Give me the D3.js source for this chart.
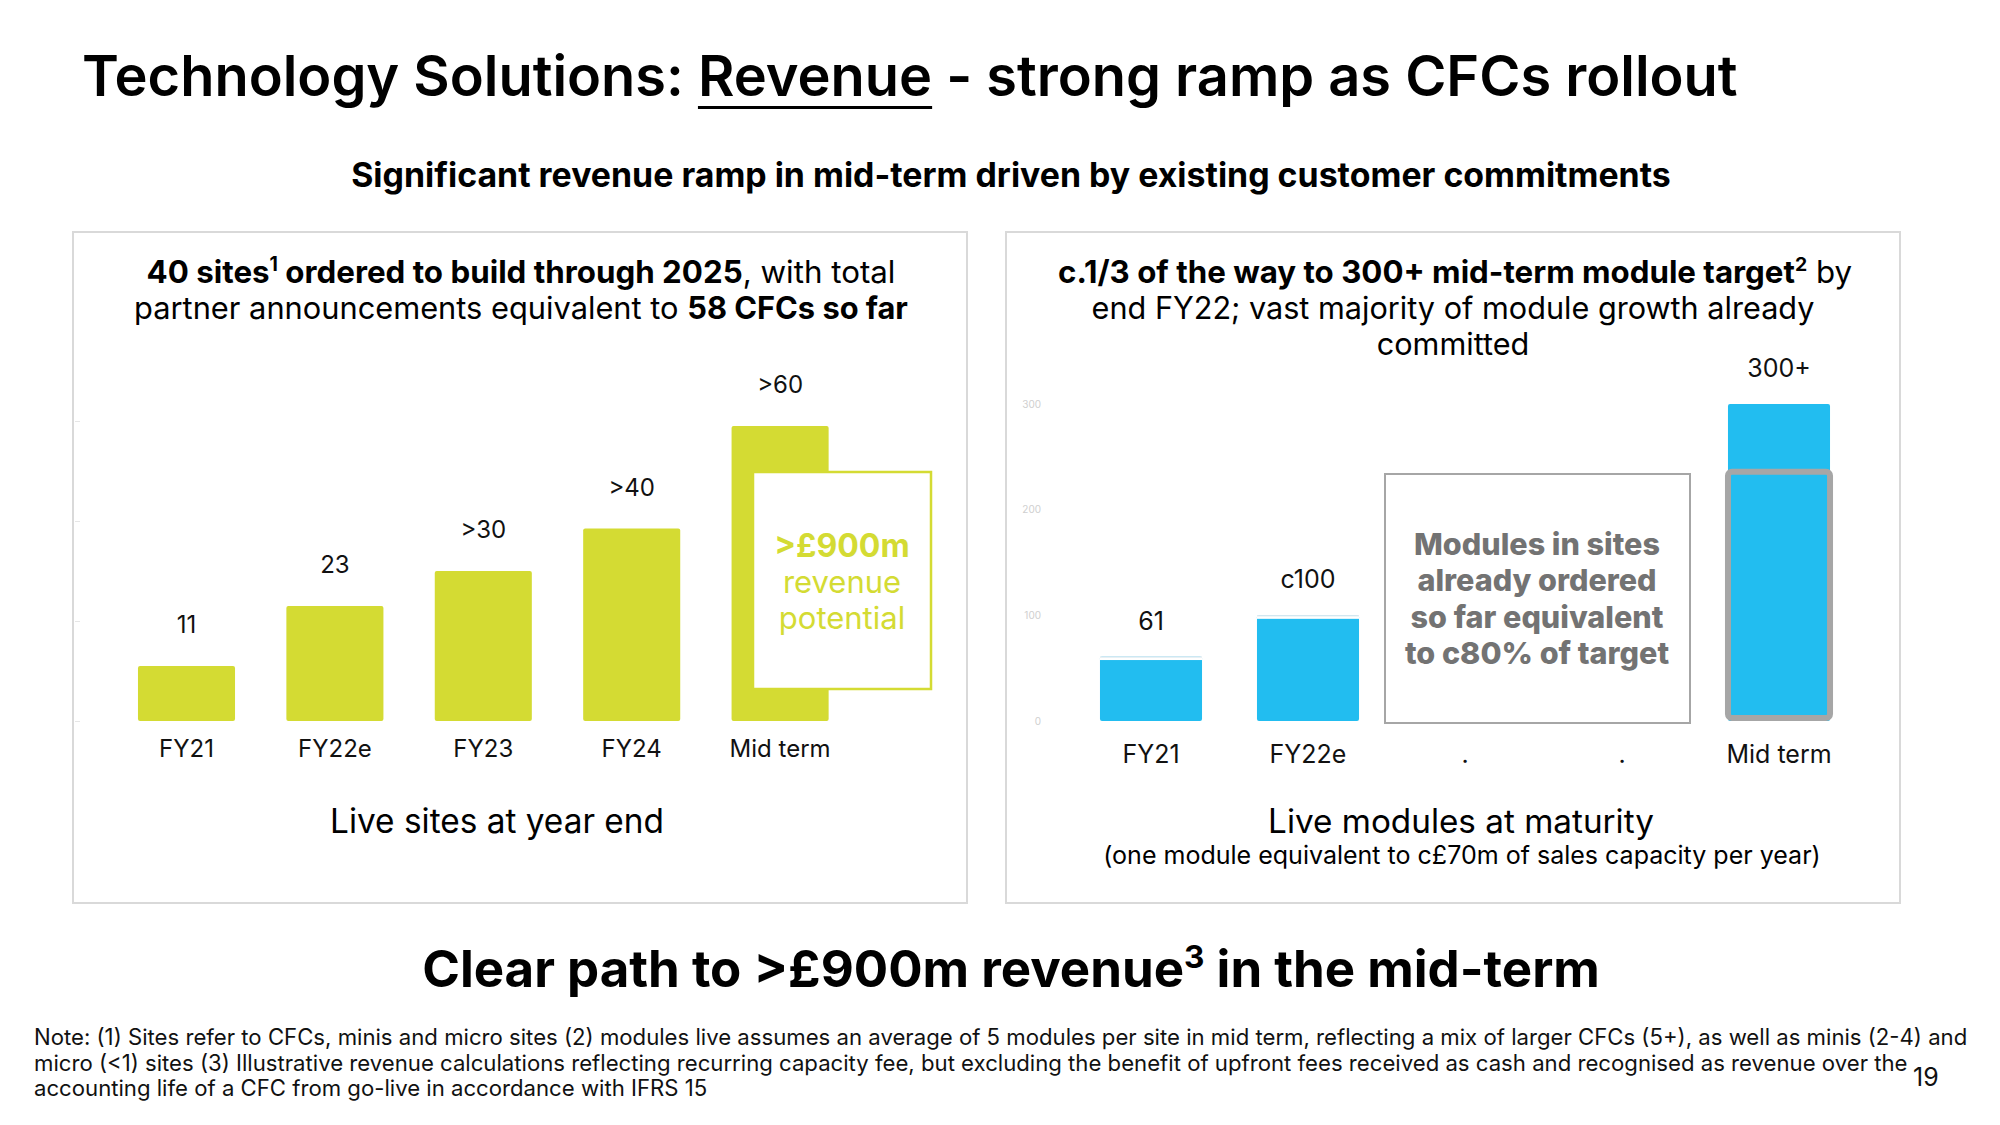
<!DOCTYPE html>
<html>
<head>
<meta charset="utf-8">
<script src="https://cdn.jsdelivr.net/npm/d3@7"></script>
<style>
  body { margin: 0; background: #fff; }
  svg { display: block; }
  text { font-family: Inter, "Noto Sans", "Liberation Sans", sans-serif; white-space: pre; }
</style>
</head>
<body>
<svg id="c" width="2000" height="1125"></svg>
<script>
// ---------------- data ----------------
const sitesCategories = ["FY21", "FY22e", "FY23", "FY24", "Mid term"];
const sitesValues = [11, 23, 30, 38.5, 59];
const sitesLabels = ["11", "23", ">30", ">40", ">60"];
const sitesTicks = [0, 20, 40, 60];

const moduleCategories = ["FY21", "FY22e", "gap1", "gap2", "Mid term"];
const moduleTickLabels = ["FY21", "FY22e", ".", ".", "Mid term"];
const moduleValues = [61, 100, null, null, 300];
const moduleLabels = ["61", "c100", "", "", "300+"];
const moduleCommitted = [236]; // mid-term modules in sites already ordered (~c80%)
const moduleTicks = [0, 100, 200, 300];

// ---------------- helpers ----------------
const svg = d3.select("#c");
const GREEN = "#d4db33", BLUE = "#22bdf0", GREY = "#a6a6a6", GREYTXT = "#737373";

function fitWidth(sel, target) {
  const w = sel.node().getComputedTextLength();
  const fs = parseFloat(sel.attr("font-size"));
  const nfs = fs * target / w;
  sel.attr("font-size", nfs);
  return nfs;
}
function addRuns(textSel, runs) {
  let prevSup = false;
  runs.forEach(r => {
    const t = textSel.append("tspan").text(r.t);
    t.attr("font-weight", r.b ? 700 : null);
    if (r.sup) { t.attr("font-size", "0.62em").attr("dy", "-0.6em"); prevSup = true; }
    else if (prevSup) { t.attr("dy", "0.372em"); prevSup = false; }
  });
  return textSel;
}

// ---------------- title ----------------
const title = svg.append("text").attr("x", 82).attr("y", 96).attr("font-size", 52)
  .attr("font-weight", 600).attr("fill", "#000");
const t1 = title.append("tspan").text("Technology Solutions: ");
const t2 = title.append("tspan").text("Revenue");
title.append("tspan").text(" - strong ramp as CFCs rollout");
fitWidth(title, 1656);
const ux0 = 82 + t1.node().getComputedTextLength();
const ux1 = ux0 + t2.node().getComputedTextLength();
svg.append("line").attr("x1", ux0).attr("x2", ux1).attr("y1", 107.5).attr("y2", 107.5)
  .attr("stroke", "#000").attr("stroke-width", 3);

// subtitle
const sub = svg.append("text").attr("x", 1011).attr("y", 187).attr("text-anchor", "middle")
  .attr("font-size", 32).attr("font-weight", 700).attr("fill", "#000")
  .text("Significant revenue ramp in mid-term driven by existing customer commitments");
fitWidth(sub, 1320);

// ---------------- panels ----------------
svg.append("rect").attr("x", 73).attr("y", 232).attr("width", 894).attr("height", 671)
  .attr("fill", "#fff").attr("stroke", "#d9d9d9").attr("stroke-width", 2);
svg.append("rect").attr("x", 1006).attr("y", 232).attr("width", 894).attr("height", 671)
  .attr("fill", "#fff").attr("stroke", "#d9d9d9").attr("stroke-width", 2);

// left header
const lh1 = svg.append("text").attr("x", 521).attr("y", 283).attr("text-anchor", "middle")
  .attr("font-size", 30).attr("fill", "#000");
addRuns(lh1, [{t: "40 sites", b: 1}, {t: "1", b: 1, sup: 1}, {t: " ordered to build through 2025", b: 1}, {t: ", with total"}]);
fitWidth(lh1, 749);
const lh2 = svg.append("text").attr("x", 521).attr("y", 319).attr("text-anchor", "middle")
  .attr("font-size", 30).attr("fill", "#000");
addRuns(lh2, [{t: "partner announcements equivalent to "}, {t: "58 CFCs so far", b: 1}]);
fitWidth(lh2, 774);

// right header
const rh1 = svg.append("text").attr("x", 1455).attr("y", 283).attr("text-anchor", "middle")
  .attr("font-size", 30).attr("fill", "#000");
addRuns(rh1, [{t: "c.1/3 of the way to 300+ mid-term module target", b: 1}, {t: "2", b: 1, sup: 1}, {t: " by"}]);
fitWidth(rh1, 794);
const rh2 = svg.append("text").attr("x", 1453).attr("y", 319).attr("text-anchor", "middle")
  .attr("font-size", 30).attr("fill", "#000").text("end FY22; vast majority of module growth already");
const rfs2 = fitWidth(rh2, 723);
svg.append("text").attr("x", 1453).attr("y", 355).attr("text-anchor", "middle")
  .attr("font-size", rfs2).attr("fill", "#000").text("committed");

// ---------------- left chart: live sites ----------------
const xL = d3.scaleBand().domain(sitesCategories).range([112.3, 854.3])
  .paddingInner(0.346).paddingOuter(0.173);
const yL = d3.scaleLinear().domain([0, 60]).range([721, 421]);

// faint hidden axis remnants
const axL = svg.append("g").attr("transform", "translate(80,0)")
  .call(d3.axisLeft(yL).tickValues(sitesTicks).tickSize(5).tickFormat(""));
axL.select(".domain").remove();
axL.selectAll("line").attr("stroke", "#e6e6e6");

svg.append("g").selectAll("rect").data(sitesValues).join("rect")
  .attr("x", (d, i) => xL(sitesCategories[i]))
  .attr("y", d => yL(d))
  .attr("width", xL.bandwidth())
  .attr("height", d => yL(0) - yL(d))
  .attr("rx", 2)
  .attr("fill", GREEN);

svg.append("g").selectAll("text").data(sitesLabels).join("text")
  .attr("x", (d, i) => xL(sitesCategories[i]) + xL.bandwidth() / 2)
  .attr("y", (d, i) => yL(sitesValues[i]) - 33)
  .attr("text-anchor", "middle").attr("font-size", 24).attr("fill", "#111")
  .text(d => d);

const axLb = svg.append("g").attr("transform", "translate(0,721)")
  .call(d3.axisBottom(xL).tickSize(0));
axLb.select(".domain").remove();
axLb.selectAll("text").attr("y", 36).attr("dy", 0).attr("font-size", 24)
  .attr("font-family", "Inter, 'Noto Sans', sans-serif").attr("fill", "#111");

// overlay box
svg.append("rect").attr("x", 753).attr("y", 472).attr("width", 178).attr("height", 217)
  .attr("fill", "#fff").attr("stroke", GREEN).attr("stroke-width", 2.5);
svg.append("text").attr("x", 842).attr("y", 557).attr("text-anchor", "middle")
  .attr("font-size", 32).attr("font-weight", 700).attr("fill", GREEN).text(">£900m");
svg.append("text").attr("x", 842).attr("y", 593).attr("text-anchor", "middle")
  .attr("font-size", 31).attr("fill", GREEN).text("revenue");
svg.append("text").attr("x", 842).attr("y", 629).attr("text-anchor", "middle")
  .attr("font-size", 31).attr("fill", GREEN).text("potential");

const lsub = svg.append("text").attr("x", 497).attr("y", 833).attr("text-anchor", "middle")
  .attr("font-size", 30).attr("fill", "#000").text("Live sites at year end");
fitWidth(lsub, 334);

// ---------------- right chart: live modules ----------------
const xR = d3.scaleBand().domain(moduleCategories).range([1072.5, 1857.5])
  .paddingInner(0.35).paddingOuter(0.175);
const yR = d3.scaleLinear().domain([0, 300]).range([721, 404]);

const axR = svg.append("g").attr("transform", "translate(1041,0)")
  .call(d3.axisLeft(yR).tickValues(moduleTicks).tickSize(0).tickPadding(0));
axR.select(".domain").remove();
axR.selectAll("text").attr("font-size", 10).attr("fill", "#cfcfcf")
  .attr("font-family", "Inter, 'Noto Sans', sans-serif");

const mData = moduleValues.map((v, i) => ({c: moduleCategories[i], v, l: moduleLabels[i], i}))
  .filter(d => d.v !== null);

svg.append("g").selectAll("rect").data(mData).join("rect")
  .attr("x", d => xR(d.c))
  .attr("y", d => yR(d.v))
  .attr("width", xR.bandwidth())
  .attr("height", d => yR(0) - yR(d.v))
  .attr("rx", 2)
  .attr("fill", BLUE);

// light top edge on the actual bars
const actual = mData.filter(d => d.i < moduleValues.length - 1);
svg.append("g").selectAll("rect").data(actual).join("rect")
  .attr("x", d => xR(d.c)).attr("y", d => yR(d.v))
  .attr("width", xR.bandwidth()).attr("height", 3.5).attr("fill", "#fff");
svg.append("g").selectAll("line").data(actual).join("line")
  .attr("x1", d => xR(d.c)).attr("x2", d => xR(d.c) + xR.bandwidth())
  .attr("y1", d => yR(d.v) + 0.5).attr("y2", d => yR(d.v) + 0.5)
  .attr("stroke", "#d5e3ea").attr("stroke-width", 1);

// committed outline on mid-term bar
svg.append("g").selectAll("rect").data(moduleCommitted).join("rect")
  .attr("x", xR("Mid term"))
  .attr("y", d => yR(d))
  .attr("width", xR.bandwidth())
  .attr("height", d => yR(0) - yR(d) - 3)
  .attr("rx", 4)
  .attr("fill", "none").attr("stroke", GREY).attr("stroke-width", 6);

svg.append("g").selectAll("text").data(mData).join("text")
  .attr("x", d => xR(d.c) + xR.bandwidth() / 2)
  .attr("y", d => yR(d.v) - 27)
  .attr("text-anchor", "middle").attr("font-size", 25).attr("fill", "#111")
  .text(d => d.l);

const axRb = svg.append("g").attr("transform", "translate(0,721)")
  .call(d3.axisBottom(xR).tickSize(0).tickFormat((d, i) => moduleTickLabels[i]));
axRb.select(".domain").remove();
axRb.selectAll("text").attr("y", 42).attr("dy", 0).attr("font-size", 25)
  .attr("font-family", "Inter, 'Noto Sans', sans-serif").attr("fill", "#111");

// annotation box
svg.append("rect").attr("x", 1385).attr("y", 474).attr("width", 305).attr("height", 249)
  .attr("fill", "#fff").attr("stroke", GREY).attr("stroke-width", 2);
const boxLines = ["Modules in sites", "already ordered", "so far equivalent", "to c80% of target"];
const probe = svg.append("text").attr("font-size", 27).attr("font-weight", 800).text(boxLines[2]);
const bfs = fitWidth(probe, 253);
probe.remove();
boxLines.forEach((s, i) => {
  svg.append("text").attr("x", 1537).attr("y", 555 + i * 36.3).attr("text-anchor", "middle")
    .attr("font-size", bfs).attr("font-weight", 800).attr("fill", GREYTXT).text(s);
});

const rsub = svg.append("text").attr("x", 1461).attr("y", 833).attr("text-anchor", "middle")
  .attr("font-size", 30).attr("fill", "#000").text("Live modules at maturity");
fitWidth(rsub, 386);
const cap = svg.append("text").attr("x", 1462).attr("y", 864).attr("text-anchor", "middle")
  .attr("font-size", 22).attr("fill", "#000")
  .text("(one module equivalent to c£70m of sales capacity per year)");
fitWidth(cap, 718);

// ---------------- bottom ----------------
const big = svg.append("text").attr("x", 1011).attr("y", 987).attr("text-anchor", "middle")
  .attr("font-size", 46).attr("fill", "#000").attr("font-weight", 700);
addRuns(big, [{t: "Clear path to >£900m revenue", b: 1}, {t: "3", b: 1, sup: 1}, {t: " in the mid-term", b: 1}]);
fitWidth(big, 1178);

const notes = [
  "Note: (1) Sites refer to CFCs, minis and micro sites (2) modules live assumes an average of 5 modules per site in mid term, reflecting a mix of larger CFCs (5+), as well as minis (2-4) and",
  "micro (<1) sites (3) Illustrative revenue calculations reflecting recurring capacity fee, but excluding the benefit of upfront fees received as cash and recognised as revenue over the",
  "accounting life of a CFC from go-live in accordance with IFRS 15"
];
let nfs = 19;
notes.forEach((s, i) => {
  const t = svg.append("text").attr("x", 34).attr("y", 1045 + i * 25.5)
    .attr("font-size", nfs).attr("fill", "#111").text(s);
  if (i === 0) nfs = fitWidth(t, 1935);
});
svg.append("text").attr("x", 1913).attr("y", 1086).attr("font-size", 25).attr("fill", "#111").text("19");
</script>
</body>
</html>
